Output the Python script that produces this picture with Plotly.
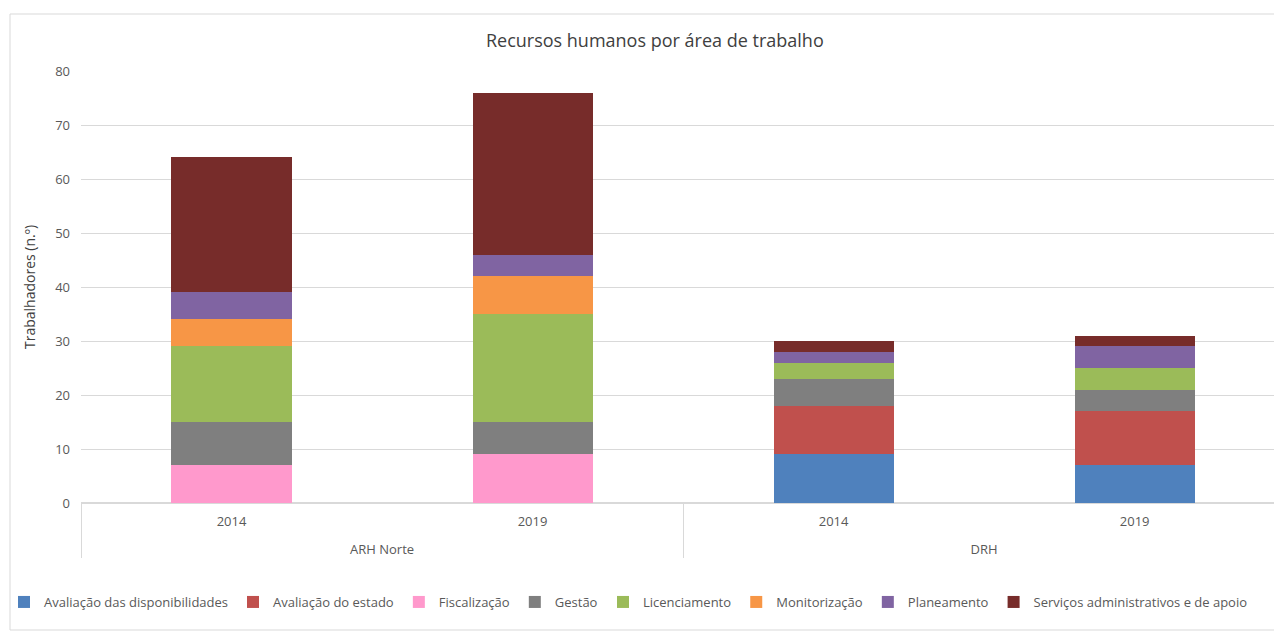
import plotly.graph_objects as go

groups = ["ARH Norte", "ARH Norte", "DRH", "DRH"]
years = ["2014", "2019", "2014", "2019"]

series_names = [
    "Avaliação das disponibilidades",
    "Avaliação do estado",
    "Fiscalização",
    "Gestão",
    "Licenciamento",
    "Monitorização",
    "Planeamento",
    "Serviços administrativos e de apoio",
]
aval_disp = [0, 0, 9, 7]
aval_estado = [0, 0, 9, 10]
fiscalizacao = [7, 9, 0, 0]
gestao = [8, 6, 5, 4]
licenciamento = [14, 20, 3, 4]
monitorizacao = [5, 7, 0, 0]
planeamento = [5, 4, 2, 4]
servicos = [25, 30, 2, 2]
series_values = [aval_disp, aval_estado, fiscalizacao, gestao,
                 licenciamento, monitorizacao, planeamento, servicos]
colors = ["#4F81BD", "#C0504D", "#FF99CC", "#7F7F7F",
          "#9BBB59", "#F79646", "#8064A2", "#772C2A"]

# group labels pushed one line down (as in the reference)
group_labels = ["<br>" + g for g in groups]

fig = go.Figure()
for i, (name, vals, c) in enumerate(zip(series_names, series_values, colors)):
    fig.add_trace(go.Bar(
        x=[group_labels, years], y=vals, name=name,
        marker=dict(color=c, line=dict(width=0)),
        hoverinfo="y+name",
        legend="legend" if i < 4 else "legend2",
    ))

font_family = "Open Sans, Noto Sans, sans-serif"
split = 603 / 1274
leg_y = 1 - 602 / 631
leg_font = dict(size=13, color="#595959", family=font_family)
fig.update_layout(
    barmode="stack",
    bargap=0.601,
    width=1274, height=631,
    margin=dict(l=81, r=0, t=71, b=128),
    paper_bgcolor="white", plot_bgcolor="white",
    font=dict(family=font_family, color="#595959", size=13),
    title=dict(text="Recursos humanos por área de trabalho",
               x=0.514, xref="container", xanchor="center",
               y=1 - 41 / 631, yref="container", yanchor="middle",
               font=dict(size=18, color="#404040", family=font_family)),
    legend=dict(orientation="h", x=split, xanchor="right", xref="container",
                y=leg_y, yref="container", yanchor="middle", bgcolor="rgba(0,0,0,0)",
                font=leg_font, itemwidth=30, traceorder="normal"),
    legend2=dict(orientation="h", x=split, xanchor="left", xref="container",
                 y=leg_y, yref="container", yanchor="middle", bgcolor="rgba(0,0,0,0)",
                 font=leg_font, itemwidth=30, traceorder="normal"),
    showlegend=True,
)
fig.update_yaxes(range=[0, 80], dtick=10, showgrid=True, gridcolor="#D9D9D9",
                 gridwidth=1, zeroline=True, zerolinecolor="#D9D9D9",
                 showline=False, ticks="", tickfont=dict(size=13, color="#595959"),
                 ticklabelstandoff=10,
                 title=dict(text="Trabalhadores (n.º)", font=dict(size=14, color="#404040"),
                            standoff=16))
fig.update_xaxes(range=[-0.5, 3.463], showline=False, ticks="", showdividers=True,
                 dividercolor="#D9D9D9", dividerwidth=1,
                 tickfont=dict(size=13, color="#595959"), ticklabelstandoff=9)
fig.add_shape(type="rect", xref="paper", yref="paper",
              x0=(10 - 81) / 1193, x1=(1290 - 81) / 1193,
              y0=(503 - 630) / 432, y1=(503 - 14) / 432,
              line=dict(color="#D9D9D9", width=1), fillcolor="rgba(0,0,0,0)", layer="below")
fig.write_html("out.html", post_script="document.body.style.margin='0';",
               config={"displayModeBar": False})
